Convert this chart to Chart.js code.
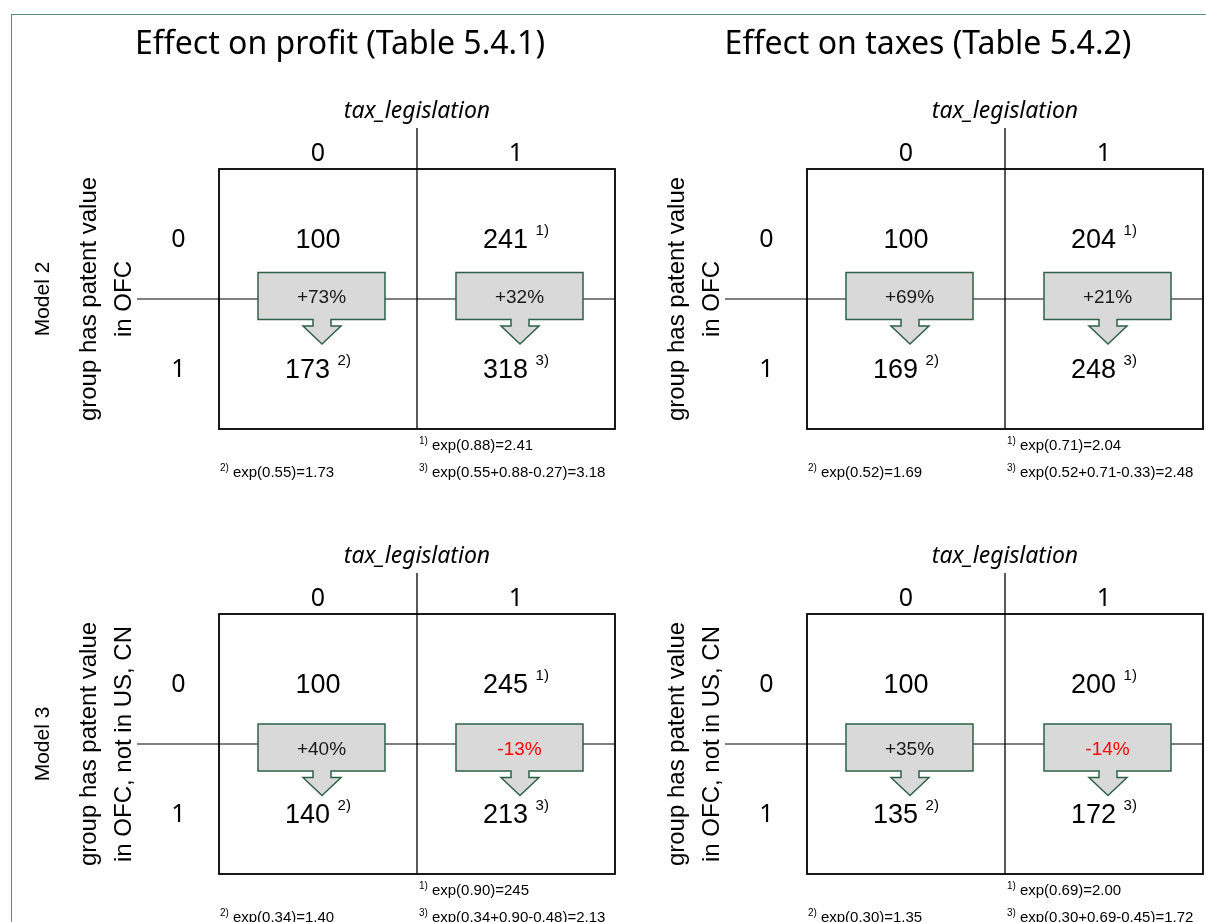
<!DOCTYPE html>
<html>
<head>
<meta charset="utf-8">
<title>Effect on profit and taxes</title>
<script src="https://cdn.jsdelivr.net/npm/chart.js@4.4.1/dist/chart.umd.min.js"></script>
<style>
    html, body { margin: 0; padding: 0; background: #ffffff; overflow: hidden; }
    body { width: 1206px; height: 922px; position: relative; }
    #frame {
        position: absolute; left: 11px; top: 14px; width: 1300px; height: 1000px;
        border: 1.5px solid #5e8c7b; box-sizing: border-box;
    }
    .panel { position: absolute; }
</style>
</head>
<body>
<div id="frame"></div>
<div class="panel" style="left:12px;top:15px;width:648px;height:485px"><canvas id="profit-m2"></canvas></div>
<div class="panel" style="left:660px;top:15px;width:546px;height:485px"><canvas id="taxes-m2"></canvas></div>
<div class="panel" style="left:12px;top:500px;width:648px;height:422px"><canvas id="profit-m3"></canvas></div>
<div class="panel" style="left:660px;top:500px;width:546px;height:422px"><canvas id="taxes-m3"></canvas></div>

<script>
// categories
const taxLegislation = ['0', '1'];   // columns
const patentInOFC = ['0', '1'];      // rows

// cell values, row by row: [row0 col0, row0 col1, row1 col0, row1 col1]
const profitModel2 = [100, 241, 173, 318];
const taxesModel2 = [100, 204, 169, 248];
const profitModel3 = [100, 245, 140, 213];
const taxesModel3 = [100, 200, 135, 172];
const cellNotes = ['', '1)', '2)', '3)'];

// change from row 0 to row 1, per column (%)
const profitModel2Change = [73, 32];
const taxesModel2Change = [69, 21];
const profitModel3Change = [40, -13];
const taxesModel3Change = [35, -14];

// footnotes 1), 2), 3)
const profitModel2Notes = ['exp(0.88)=2.41', 'exp(0.55)=1.73', 'exp(0.55+0.88-0.27)=3.18'];
const taxesModel2Notes = ['exp(0.71)=2.04', 'exp(0.52)=1.69', 'exp(0.52+0.71-0.33)=2.48'];
const profitModel3Notes = ['exp(0.90)=245', 'exp(0.34)=1.40', 'exp(0.34+0.90-0.48)=2.13'];
const taxesModel3Notes = ['exp(0.69)=2.00', 'exp(0.30)=1.35', 'exp(0.30+0.69-0.45)=1.72'];

const panelTitles = ['Effect on profit (Table 5.4.1)', 'Effect on taxes (Table 5.4.2)'];
const columnTitle = 'tax_legislation';
const rowTitlesModel2 = ['group has patent value', 'in OFC'];
const rowTitlesModel3 = ['group has patent value', 'in OFC, not in US, CN'];
const modelLabels = ['Model 2', 'Model 3'];

const SANS = '"Noto Sans", "Open Sans", sans-serif';
const ARIAL = '"Liberation Sans", Arial, sans-serif';
const CALLOUT_FILL = '#d9d9d9';
const CALLOUT_EDGE = '#2e6146';

function drawRotated(ctx, text, x, y, font) {
    ctx.save();
    ctx.translate(x, y);
    ctx.rotate(-Math.PI / 2);
    ctx.font = font;
    ctx.textAlign = 'center';
    ctx.textBaseline = 'alphabetic';
    ctx.fillText(text, 0, 0);
    ctx.restore();
}

// superscript marker followed by text, starting at x
function drawNote(ctx, mark, text, x, y) {
    ctx.textAlign = 'left';
    ctx.font = '10px ' + ARIAL;
    ctx.fillText(mark, x, y - 6);
    const w = ctx.measureText(mark).width;
    ctx.font = '15px ' + ARIAL;
    ctx.fillText(text, x + w + 4, y);
}

function drawCallout(ctx, cx, cy, label, negative) {
    const w = 127, h = 47;
    const bl = cx - w / 2, br = cx + w / 2;
    const bt = cy - h / 2, bb = cy + h / 2;
    const ax = cx + 0.5;
    ctx.beginPath();
    ctx.moveTo(bl, bt);
    ctx.lineTo(br, bt);
    ctx.lineTo(br, bb);
    ctx.lineTo(ax + 9, bb);
    ctx.lineTo(ax + 9, bb + 6.5);
    ctx.lineTo(ax + 19, bb + 6.5);
    ctx.lineTo(ax, bb + 24.5);
    ctx.lineTo(ax - 19, bb + 6.5);
    ctx.lineTo(ax - 9, bb + 6.5);
    ctx.lineTo(ax - 9, bb);
    ctx.lineTo(bl, bb);
    ctx.closePath();
    ctx.fillStyle = CALLOUT_FILL;
    ctx.fill();
    ctx.strokeStyle = CALLOUT_EDGE;
    ctx.lineWidth = 1.5;
    ctx.lineJoin = 'miter';
    ctx.stroke();

    ctx.fillStyle = negative ? '#ff0000' : '#1a1a1a';
    ctx.font = '19px ' + ARIAL;
    ctx.textAlign = 'center';
    ctx.textBaseline = 'alphabetic';
    ctx.fillText(label, cx, cy + 7);
}

const crossTabPlugin = {
    id: 'crossTab',
    afterDatasetsDraw(chart, args, opts) {
        const ctx = chart.ctx;
        const { left: L, right: R, top: T, bottom: B } = chart.chartArea;
        const xs = chart.scales.x, ys = chart.scales.y;
        const colX = taxLegislation.map((_, i) => xs.getPixelForValue(i));
        const rowY = patentInOFC.map((_, i) => ys.getPixelForValue(i));
        const divX = (colX[0] + colX[1]) / 2;
        const midY = (rowY[0] + rowY[1]) / 2;

        ctx.save();
        ctx.strokeStyle = '#000000';

        // row split line, runs out to the left of the box
        ctx.lineWidth = 1;
        ctx.beginPath();
        ctx.moveTo(L - 82, midY);
        ctx.lineTo(R, midY);
        ctx.stroke();

        // column split line, runs up towards the column title
        ctx.lineWidth = 1.3;
        ctx.beginPath();
        ctx.moveTo(divX, T - 41);
        ctx.lineTo(divX, B);
        ctx.stroke();

        // box
        ctx.lineWidth = 1.8;
        ctx.strokeRect(L, T, R - L, B - T);

        ctx.fillStyle = '#000000';
        ctx.textBaseline = 'alphabetic';

        // panel title (top row only)
        if (opts.title) {
            ctx.font = '32px ' + SANS;
            ctx.textAlign = 'center';
            ctx.fillText(opts.title, (L + R) / 2 - 77, T - 115);
        }

        // column title and categories
        ctx.font = 'italic 23px ' + SANS;
        ctx.textAlign = 'center';
        ctx.fillText(columnTitle, divX, T - 51);
        ctx.font = '25px ' + SANS;
        taxLegislation.forEach((lab, i) => ctx.fillText(lab, colX[i], T - 8));

        // row categories
        patentInOFC.forEach((lab, i) => ctx.fillText(lab, L - 40.5, rowY[i] + 12.5));

        // rotated row titles
        opts.rowTitles.forEach((line, i) => {
            drawRotated(ctx, line, L - 123 + i * 35, midY, '24px ' + ARIAL);
        });
        if (opts.model) {
            drawRotated(ctx, opts.model, L - 170, midY, '21px ' + ARIAL);
        }

        // change callouts between the rows
        opts.change.forEach((pct, c) => {
            const label = (pct >= 0 ? '+' : '-') + Math.abs(pct) + '%';
            drawCallout(ctx, colX[c] + 3.5, midY + opts.calloutShift, label, pct < 0);
        });

        // cell values with note markers
        const meta = chart.getDatasetMeta(0);
        const data = chart.data.datasets[0].data;
        ctx.fillStyle = '#000000';
        meta.data.forEach((pt, i) => {
            const raw = data[i];
            const num = String(raw.v);
            ctx.font = '27px ' + ARIAL;
            const numW = ctx.measureText(num).width;
            const gap = raw.note ? ctx.measureText(' ').width : 0;
            ctx.font = '15px ' + ARIAL;
            const supW = raw.note ? ctx.measureText(raw.note).width : 0;
            const x0 = pt.x - (numW + gap + supW) / 2;
            const base = pt.y + 14;
            ctx.textAlign = 'left';
            ctx.font = '27px ' + ARIAL;
            ctx.fillText(num, x0, base);
            if (raw.note) {
                ctx.font = '15px ' + ARIAL;
                ctx.fillText(raw.note, x0 + numW + gap, base - 13);
            }
        });

        // footnotes under the box
        drawNote(ctx, '1)', opts.notes[0], divX + 2, B + 21);
        drawNote(ctx, '2)', opts.notes[1], L + 1, B + 48);
        drawNote(ctx, '3)', opts.notes[2], divX + 2, B + 48);

        ctx.restore();
    }
};

function cellPoints(values) {
    const pts = [];
    patentInOFC.forEach((r, ri) => {
        taxLegislation.forEach((c, ci) => {
            const k = ri * taxLegislation.length + ci;
            pts.push({ x: c, y: r, v: values[k], note: cellNotes[k] });
        });
    });
    return pts;
}

function createPanel(canvasId, values, change, notes, extra) {
    const ctx = document.getElementById(canvasId).getContext('2d');
    return new Chart(ctx, {
        type: 'scatter',
        data: {
            datasets: [{
                data: cellPoints(values),
                pointRadius: 0,
                pointHoverRadius: 0
            }]
        },
        options: {
            responsive: true,
            maintainAspectRatio: false,
            animation: false,
            events: [],
            layout: { padding: extra.padding },
            scales: {
                x: { type: 'category', labels: taxLegislation, offset: true, display: false },
                y: { type: 'category', labels: patentInOFC, offset: true, display: false }
            },
            plugins: {
                legend: { display: false },
                tooltip: { enabled: false },
                crossTab: {
                    title: extra.title,
                    model: extra.model,
                    rowTitles: extra.rowTitles,
                    change: change,
                    notes: notes,
                    calloutShift: extra.calloutShift
                }
            }
        },
        plugins: [crossTabPlugin]
    });
}

createPanel('profit-m2', profitModel2, profitModel2Change, profitModel2Notes, {
    title: panelTitles[0], model: modelLabels[0], rowTitles: rowTitlesModel2, calloutShift: -3,
    padding: { left: 207, top: 154, right: 45, bottom: 71 }
});
createPanel('taxes-m2', taxesModel2, taxesModel2Change, taxesModel2Notes, {
    title: panelTitles[1], model: null, rowTitles: rowTitlesModel2, calloutShift: -3,
    padding: { left: 147, top: 154, right: 3, bottom: 71 }
});
createPanel('profit-m3', profitModel3, profitModel3Change, profitModel3Notes, {
    title: null, model: modelLabels[1], rowTitles: rowTitlesModel3, calloutShift: 3.5,
    padding: { left: 207, top: 114, right: 45, bottom: 48 }
});
createPanel('taxes-m3', taxesModel3, taxesModel3Change, taxesModel3Notes, {
    title: null, model: null, rowTitles: rowTitlesModel3, calloutShift: 3.5,
    padding: { left: 147, top: 114, right: 3, bottom: 48 }
});
</script>
</body>
</html>
